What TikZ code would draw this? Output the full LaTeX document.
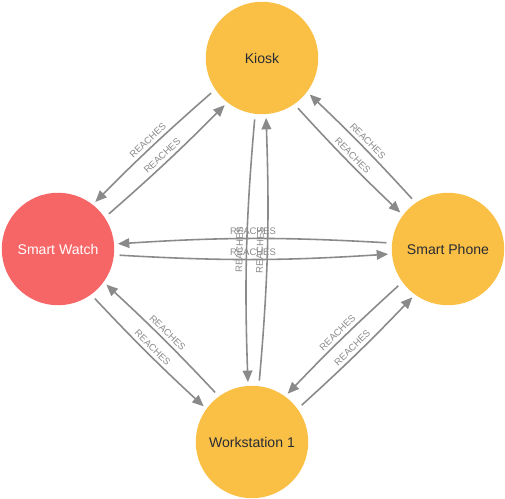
\documentclass[tikz,border=0pt]{standalone}
\usepackage{fontspec}
\setmainfont{Liberation Sans}
\usetikzlibrary{arrows.meta}
\definecolor{devfill}{HTML}{F9C045}
\definecolor{watchfill}{HTML}{F76667}
\definecolor{linkgray}{HTML}{8A8A8A}
\definecolor{devtext}{HTML}{2A2C34}

\begin{document}
\begin{tikzpicture}[x=0.02cm, y=-0.02cm,
  dev/.style={circle, fill=#1, minimum size=2.25cm, inner sep=0pt, text=devtext, font=\fontsize{8}{9}\selectfont},
  dev/.default=devfill,
  rel/.style={->, draw=linkgray, line width=0.9pt, shorten >=2pt, shorten <=3pt},
  lbl/.style={midway, sloped, above, inner sep=1.8pt, text=linkgray, font=\fontsize{5.4}{6}\selectfont},
  >={Triangle[length=6.5pt,width=5.5pt]}]
\useasboundingbox (0,0) rectangle (505,499);
\node[dev] (kiosk) at (262,58) {Kiosk};
\node[dev=watchfill, text=white] (watch) at (58,249) {Smart Watch};
\node[dev] (phone) at (448,249) {Smart Phone};
\node[dev] (ws) at (252,442) {Workstation 1};
% watch <-> kiosk
\draw[rel] (watch.34) to[bend right=2] node[lbl]{REACHES} (kiosk.232);
\draw[rel] (kiosk.214) to[bend right=2] node[lbl]{REACHES} (watch.52);
% kiosk <-> phone
\draw[rel] (kiosk.305) to[bend right=2] node[lbl]{REACHES} (phone.143);
\draw[rel] (phone.125) to[bend right=2] node[lbl]{REACHES} (kiosk.323);
% watch <-> workstation
\draw[rel] (watch.306) to[bend right=2] node[lbl]{REACHES} (ws.144);
\draw[rel] (ws.126) to[bend right=2] node[lbl]{REACHES} (watch.324);
% workstation <-> phone
\draw[rel] (ws.36) to[bend right=2] node[lbl]{REACHES} (phone.234);
\draw[rel] (phone.216) to[bend right=2] node[lbl]{REACHES} (ws.54);
% watch <-> phone
\draw[rel] (watch.354.5) to[bend right=3.5] node[lbl]{REACHES} (phone.185.5);
\draw[rel] (phone.174.5) to[bend right=3.5] node[lbl]{REACHES} (watch.5.5);
% kiosk <-> workstation
\draw[rel] (kiosk.263) to[bend right=3.5] node[lbl]{REACHES} (ws.94);
\draw[rel] (ws.83) to[bend right=3.5] node[lbl]{REACHES} (kiosk.274);
\end{tikzpicture}
\end{document}
